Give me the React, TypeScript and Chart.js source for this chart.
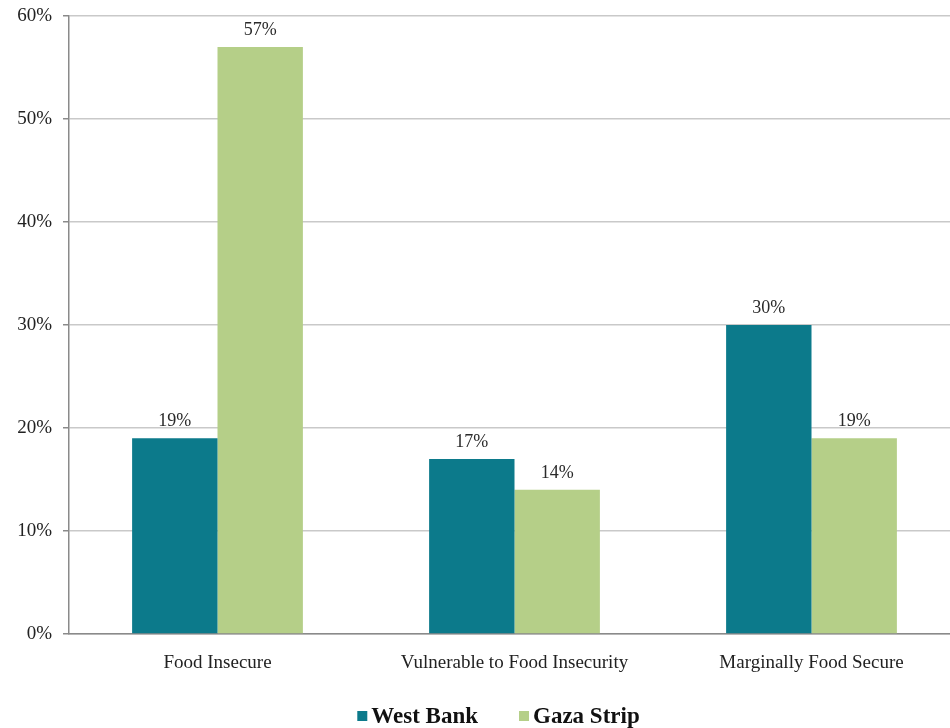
import React, { useEffect, useRef } from "react";
import { Chart, registerables } from "chart.js";

Chart.register(...registerables);

const categories = ["Food Insecure", "Vulnerable to Food Insecurity", "Marginally Food Secure"];
const westBank = [19, 17, 30];
const gazaStrip = [57, 14, 19];
const seriesNames = ["West Bank", "Gaza Strip"];
const seriesColors = ["#0c7a8b", "#b5cf88"];

const SERIF = "'Liberation Serif', 'DejaVu Serif', serif";

const valueLabels = {
  id: "valueLabels",
  afterDatasetsDraw(chart: any) {
    const ctx = chart.ctx;
    ctx.save();
    ctx.font = `18px ${SERIF}`;
    ctx.fillStyle = "#2a2a2a";
    ctx.textAlign = "center";
    ctx.textBaseline = "middle";
    chart.data.datasets.forEach((ds: any, i: number) => {
      const meta = chart.getDatasetMeta(i);
      meta.data.forEach((bar: any, j: number) => {
        ctx.fillText(`${ds.data[j]}%`, bar.x, bar.y - 17);
      });
    });
    ctx.restore();
  },
};

const customLegend = {
  id: "customLegend",
  afterDraw(chart: any) {
    const ctx = chart.ctx;
    const { left, right } = chart.chartArea;
    ctx.save();
    ctx.font = `bold 23px ${SERIF}`;
    ctx.textBaseline = "middle";
    const box = 10;
    const gap = 4;
    const itemGap = 41;
    const widths = chart.data.datasets.map((ds: any) => box + gap + ctx.measureText(ds.label).width);
    const total = widths.reduce((a: number, b: number) => a + b, 0) + itemGap * (widths.length - 1);
    let x = (left + right) / 2 - 16 - total / 2;
    const y = 717;
    chart.data.datasets.forEach((ds: any, i: number) => {
      ctx.fillStyle = ds.backgroundColor;
      ctx.fillRect(x, y - box / 2 - 1, box, box);
      ctx.fillStyle = "#111";
      ctx.fillText(ds.label, x + box + gap, y);
      x += widths[i] + itemGap;
    });
    ctx.restore();
  },
};

export default function App() {
  const ref = useRef<HTMLCanvasElement>(null);
  useEffect(() => {
    if (!ref.current) return;
    const chart = new Chart(ref.current, {
      type: "bar",
      data: {
        labels: categories,
        datasets: [
          { label: seriesNames[0], data: westBank, backgroundColor: seriesColors[0] },
          { label: seriesNames[1], data: gazaStrip, backgroundColor: seriesColors[1] },
        ],
      },
      options: {
        animation: false,
        responsive: false,
        maintainAspectRatio: false,
        layout: { padding: { top: 16, bottom: 0, left: 0, right: 0 } },
        plugins: {
          legend: { display: false },
          tooltip: { enabled: false },
        },
        datasets: { bar: { categoryPercentage: 0.575, barPercentage: 1 } },
        scales: {
          x: {
            grid: { display: false, drawTicks: false },
            border: { color: "#8a8a8a", width: 1.5 },
            ticks: {
              color: "#222",
              font: { family: SERIF, size: 19 },
              padding: 18,
              maxRotation: 0,
              autoSkip: false,
            },
            afterFit(scale: any) {
              scale.height = 94;
            },
          },
          y: {
            min: 0,
            max: 60,
            grid: { color: "#c9c9c9", lineWidth: 1.5, tickLength: 6, tickColor: "#8a8a8a" },
            border: { color: "#8a8a8a", width: 1.5 },
            ticks: {
              stepSize: 10,
              color: "#222",
              font: { family: SERIF, size: 19 },
              padding: 11,
              callback: (v: any) => `${v}%`,
            },
            afterFit(scale: any) {
              scale.width = 69;
              scale.paddingTop = 0;
              scale.paddingBottom = 0;
            },
          },
        },
      },
      plugins: [valueLabels, customLegend],
    });
    return () => chart.destroy();
  }, []);
  return (
    <div style={{ position: "fixed", left: 0, top: 0, width: 950, height: 728, overflow: "hidden", background: "#fff" }}>
      <canvas ref={ref} width={960} height={728} style={{ width: 960, height: 728, display: "block" }} />
    </div>
  );
}
